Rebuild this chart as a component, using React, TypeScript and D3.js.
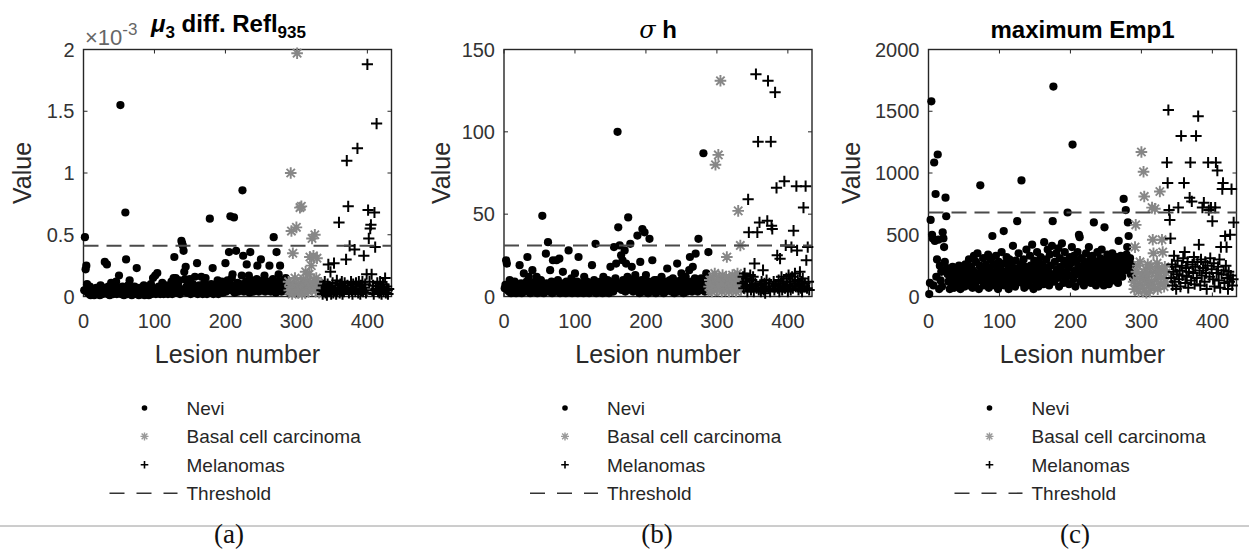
import * as d3 from "d3";

// lesion numbering: nevi 1..288, basal cell carcinoma 289..335, melanomas 336..430
const neviFirst = 1;
const bccFirst = 289;
const melFirst = 336;

const lesionTicks = [0, 100, 200, 300, 400];

// (a) mu_3 diff. Refl935, in units of 1e-3
const neviA = [
  0.05, 0.48, 0.22, 0.25, 0.1, 0.03, 0.06, 0.02, 0.08, 0.01, 0.04, 0.02, 0.06, 0.03, 0.01, 0.05, 0.02, 0.07, 0.03, 0.04,
  0.02, 0.06, 0.01, 0.09, 0.03, 0.05, 0.02, 0.04, 0.07, 0.28, 0.03, 0.05, 0.26, 0.02, 0.08, 0.04, 0.01, 0.06, 0.11, 0.03,
  0.05, 0.02, 0.09, 0.04, 0.06, 0.12, 0.02, 0.03, 0.07, 0.17, 0.04, 1.55, 0.02, 0.05, 0.08, 0.03, 0.01, 0.06, 0.68, 0.3,
  0.04, 0.02, 0.09, 0.05, 0.13, 0.03, 0.07, 0.01, 0.04, 0.06, 0.02, 0.08, 0.03, 0.05, 0.23, 0.02, 0.04, 0.01, 0.07, 0.03,
  0.05, 0.02, 0.06, 0.03, 0.09, 0.01, 0.04, 0.02, 0.07, 0.03, 0.05, 0.01, 0.06, 0.03, 0.1, 0.02, 0.04, 0.15, 0.03, 0.06,
  0.17, 0.02, 0.05, 0.19, 0.03, 0.08, 0.04, 0.02, 0.06, 0.03, 0.11, 0.05, 0.02, 0.07, 0.04, 0.09, 0.03, 0.05, 0.02, 0.06,
  0.03, 0.08, 0.04, 0.12, 0.02, 0.05, 0.15, 0.32, 0.04, 0.15, 0.03, 0.07, 0.1, 0.05, 0.13, 0.02, 0.06, 0.45, 0.43, 0.41,
  0.37, 0.2, 0.14, 0.24, 0.08, 0.03, 0.06, 0.12, 0.04, 0.14, 0.02, 0.07, 0.05, 0.1, 0.03, 0.06, 0.16, 0.04, 0.08, 0.27,
  0.02, 0.05, 0.09, 0.03, 0.06, 0.16, 0.04, 0.02, 0.07, 0.11, 0.03, 0.15, 0.05, 0.02, 0.08, 0.04, 0.06, 0.63, 0.03, 0.1,
  0.05, 0.23, 0.02, 0.07, 0.04, 0.09, 0.03, 0.06, 0.13, 0.02, 0.05, 0.08, 0.04, 0.1, 0.12, 0.03, 0.07, 0.05, 0.09, 0.27,
  0.04, 0.08, 0.13, 0.06, 0.36, 0.1, 0.65, 0.05, 0.15, 0.18, 0.07, 0.64, 0.03, 0.09, 0.37, 0.06, 0.11, 0.04, 0.08, 0.05,
  0.1, 0.06, 0.17, 0.86, 0.33, 0.04, 0.09, 0.07, 0.12, 0.26, 0.05, 0.08, 0.17, 0.03, 0.36, 0.1, 0.06, 0.13, 0.04, 0.09,
  0.07, 0.11, 0.05, 0.14, 0.25, 0.08, 0.04, 0.12, 0.06, 0.3, 0.09, 0.05, 0.13, 0.07, 0.17, 0.04, 0.1, 0.06, 0.08, 0.12,
  0.05, 0.25, 0.09, 0.04, 0.11, 0.07, 0.14, 0.48, 0.06, 0.1, 0.03, 0.36, 0.08, 0.12, 0.18, 0.05, 0.25, 0.09, 0.04, 0.11,
  0.07, 0.13, 0.05, 0.09, 0.15, 0.06, 0.1, 0.04,
];
const bccA = [
  0.12, 0.05, 0.08, 1.0, 0.53, 0.02, 0.35, 0.1, 0.04, 0.15, 0.07, 0.56, 1.97, 0.03, 0.09, 0.06, 0.72, 0.11, 0.73, 0.02,
  0.05, 0.14, 0.08, 0.03, 0.2, 0.1, 0.06, 0.12, 0.04, 0.18, 0.32, 0.07, 0.25, 0.47, 0.09, 0.33, 0.13, 0.5, 0.05, 0.15,
  0.31, 0.08, 0.11, 0.03, 0.06, 0.09, 0.04,
];
const melA = [
  0.05, 0.02, 0.09, 0.04, 0.12, 0.03, 0.07, 0.01, 0.1, 0.26, 0.04, 0.08, 0.2, 0.02, 0.06, 0.11, 0.03, 0.27, 0.05, 0.09,
  0.02, 0.13, 0.04, 0.07, 0.6, 0.03, 0.1, 0.05, 0.12, 0.02, 0.08, 0.04, 0.11, 0.06, 0.3, 1.1, 0.09, 0.73, 0.03, 0.41,
  0.07, 0.12, 0.05, 0.02, 0.1, 0.06, 0.38, 0.04, 0.11, 0.08, 1.2, 0.03, 0.12, 0.06, 0.02, 0.09, 0.05, 0.12, 0.04, 0.33,
  0.07, 0.1, 0.03, 0.18, 1.88, 0.7, 0.47, 0.12, 0.55, 0.58, 0.18, 0.05, 0.09, 0.02, 0.68, 0.4, 0.06, 1.4, 0.11, 0.04,
  0.08, 0.03, 0.12, 0.05, 0.02, 0.07, 0.1, 0.04, 0.06, 0.15, 0.03, 0.08, 0.05, 0.02, 0.06,
];

// (b) sigma h
const neviB = [
  5, 7, 22, 20, 4, 6, 3, 10, 5, 2, 8, 4, 6, 3, 9, 5, 2, 7, 4, 6,
  3, 19, 5, 8, 2, 6, 4, 14, 7, 3, 5, 9, 24, 4, 12, 6, 2, 8, 5, 16,
  3, 7, 4, 9, 5, 12, 2, 6, 8, 4, 3, 10, 5, 49, 7, 2, 6, 4, 26, 8,
  5, 33, 3, 7, 16, 4, 9, 2, 22, 6, 5, 8, 3, 22, 4, 10, 6, 23, 2, 7,
  5, 3, 15, 8, 4, 6, 2, 9, 5, 7, 28, 3, 6, 4, 11, 2, 8, 5, 3, 14,
  6, 4, 9, 2, 24, 7, 5, 3, 8, 4, 6, 2, 12, 5, 7, 3, 9, 4, 6, 2,
  8, 5, 3, 19, 6, 4, 10, 7, 32, 2, 5, 8, 4, 6, 3, 9, 5, 7, 2, 12,
  4, 6, 8, 3, 5, 10, 7, 2, 6, 18, 4, 9, 5, 3, 30, 7, 11, 20, 6, 100,
  42, 5, 31, 8, 25, 4, 22, 10, 6, 28, 3, 20, 7, 12, 48, 5, 9, 32, 4, 18,
  6, 3, 8, 11, 13, 5, 7, 37, 4, 9, 2, 21, 6, 10, 41, 5, 3, 39, 8, 13,
  4, 7, 2, 9, 35, 5, 8, 3, 22, 6, 4, 10, 7, 2, 10, 5, 8, 3, 6, 9,
  4, 12, 7, 5, 2, 8, 6, 3, 9, 17, 5, 7, 4, 10, 6, 3, 8, 11, 5, 2,
  7, 4, 9, 20, 6, 3, 8, 5, 10, 14, 4, 7, 2, 9, 5, 12, 6, 3, 8, 4,
  16, 24, 5, 9, 3, 18, 7, 4, 11, 26, 6, 8, 3, 35, 5, 10, 7, 11, 4, 9,
  87, 6, 3, 8, 14, 5, 10, 27,
];
const bccB = [
  6, 10, 4, 8, 3, 12, 5, 7, 14, 80, 6, 9, 4, 86, 11, 5, 131, 8, 3, 13,
  6, 10, 4, 7, 12, 24, 5, 9, 3, 11, 6, 8, 4, 13, 7, 10, 5, 12, 3, 8,
  14, 52, 6, 9, 31, 4, 11,
];
const melB = [
  8, 12, 5, 14, 9, 6, 11, 3, 59, 39, 7, 13, 4, 10, 6, 12, 3, 20, 8, 135,
  5, 39, 94, 4, 45, 7, 3, 9, 5, 16, 4, 8, 2, 6, 10, 46, 131, 5, 8, 3,
  94, 43, 41, 6, 9, 4, 124, 7, 66, 25, 5, 10, 3, 23, 8, 12, 4, 6, 9, 70,
  5, 31, 11, 7, 3, 13, 6, 9, 4, 30, 12, 5, 40, 8, 14, 6, 67, 28, 10, 4,
  7, 15, 5, 9, 3, 11, 54, 6, 8, 67, 22, 5, 30, 9, 4,
];

// (c) maximum Emp1
const neviC = [
  20, 110, 620, 1580, 500, 470, 90, 1085, 450, 830, 160, 300, 1150, 460, 60, 250, 130, 200, 80, 520,
  470, 400, 280, 800, 650, 230, 180, 120, 210, 60, 150, 190, 100, 240, 140, 70, 170, 110, 200, 130,
  90, 160, 250, 120, 60, 190, 140, 220, 100, 170, 80, 260, 130, 200, 110, 150, 300, 90, 180, 240,
  120, 70, 210, 330, 160, 100, 280, 140, 350, 190, 60, 250, 900, 130, 220, 170, 310, 90, 200, 150,
  260, 110, 180, 340, 70, 230, 140, 300, 200, 490, 120, 260, 90, 180, 330, 150, 220, 60, 280, 170,
  240, 110, 360, 200, 140, 530, 90, 270, 180, 320, 130, 220, 60, 300, 190, 250, 100, 170, 410, 140,
  230, 80, 290, 180, 610, 120, 350, 210, 160, 260, 940, 110, 200, 300, 70, 240, 160, 380, 130, 220,
  180, 90, 330, 250, 140, 420, 200, 60, 290, 170, 240, 110, 360, 190, 80, 270, 150, 320, 210, 130,
  260, 100, 440, 180, 230, 300, 140, 380, 200, 90, 340, 250, 160, 410, 610, 1700, 120, 280, 190, 350,
  220, 150, 390, 80, 310, 240, 170, 430, 200, 110, 290, 360, 140, 260, 190, 680, 230, 100, 320, 170,
  270, 400, 1230, 140, 330, 210, 80, 290, 180, 360, 250, 500, 480, 120, 200, 310, 160, 240, 90, 280,
  190, 350, 130, 260, 220, 400, 170, 300, 110, 240, 330, 200, 600, 150, 280, 90, 230, 360, 180, 260,
  120, 310, 210, 380, 160, 250, 90, 560, 290, 200, 140, 340, 230, 100, 270, 310, 180, 220, 350, 130,
  260, 200, 300, 150, 320, 240, 110, 450, 280, 190, 330, 250, 160, 300, 790, 210, 270, 700, 340, 400,
  600, 490, 230, 310, 180, 260, 200, 150,
];
const bccC = [
  120, 60, 400, 580, 200, 90, 250, 40, 150, 280, 100, 1170, 180, 70, 1010, 810, 130, 220, 30, 160,
  260, 90, 190, 50, 240, 120, 720, 460, 350, 80, 710, 200, 140, 270, 60, 170, 230, 850, 100, 210,
  460, 360, 150, 80, 240, 120, 190,
];
const melC = [
  1085, 920, 1510, 700, 620, 470, 150, 260, 90, 200, 330, 120, 240, 60, 180, 290, 720, 140, 210, 80,
  1300, 250, 170, 310, 920, 360, 110, 230, 160, 280, 70, 200, 800, 1085, 130, 770, 260, 190, 320, 100,
  240, 1300, 150, 280, 1460, 420, 210, 90, 300, 170, 720, 230, 760, 120, 280, 190, 60, 250, 1085, 700,
  160, 310, 720, 220, 610, 140, 270, 80, 720, 1085, 190, 1020, 240, 130, 300, 70, 400, 180, 870, 920,
  210, 110, 490, 250, 400, 150, 60, 200, 120, 500, 170, 870, 90, 140, 600,
];

const thresholds = [0.41, 31, 680];
const yDomains: [number, number][] = [[0, 2], [0, 150], [0, 2000]];
const yTicks = [
  [0, 0.5, 1, 1.5, 2],
  [0, 50, 100, 150],
  [0, 500, 1000, 1500, 2000],
];
const legendLabels = ["Nevi", "Basal cell carcinoma", "Melanomas", "Threshold"];
const panelLetters = ["(a)", "(b)", "(c)"];

const panelData = [
  { nevi: neviA, bcc: bccA, mel: melA },
  { nevi: neviB, bcc: bccB, mel: melB },
  { nevi: neviC, bcc: bccC, mel: melC },
];

// layout
const W = 1249;
const H = 552;
const FONT = "'Liberation Sans', Arial, Helvetica, sans-serif";
const AX = "#262626";
const TICK_TXT = "#333";
const BCC_COLOR = "#878787";
const top = 49.5;
const bottom = 296.5;
const boxW = 308;
const boxLefts = [83.5, 504, 928.5];
const valueLabelX = [22, 441, 851];
const letterX = [229, 657, 1075];

const dotPath = (r: number) => d3.symbol(d3.symbolCircle, Math.PI * r * r)() as string;
const starPath = (s: number) => {
  const d = s * 0.72;
  return `M${-s},0H${s}M0,${-s}V${s}M${-d},${-d}L${d},${d}M${-d},${d}L${d},${-d}`;
};
const plusPath = (s: number) => `M${-s},0H${s}M0,${-s}V${s}`;

function Panel({ i }: { i: number }) {
  const left = boxLefts[i];
  const x = d3.scaleLinear().domain([0, 434]).range([left, left + boxW]);
  const y = d3.scaleLinear().domain(yDomains[i]).range([bottom, top]);
  const { nevi, bcc, mel } = panelData[i];
  const cx = left + boxW / 2;
  const tl = 4;

  return (
    <g>
      {/* box */}
      <rect x={left} y={top} width={boxW} height={bottom - top} fill="none" stroke={AX} strokeWidth={1.4} />
      {lesionTicks.map((t) => (
        <g key={"xt" + t}>
          <line x1={x(t)} x2={x(t)} y1={bottom} y2={bottom - tl} stroke={AX} />
          <line x1={x(t)} x2={x(t)} y1={top} y2={top + tl} stroke={AX} />
          <text x={x(t)} y={328} textAnchor="middle" fontSize={20} fill={TICK_TXT}>
            {t}
          </text>
        </g>
      ))}
      {yTicks[i].map((t) => (
        <g key={"yt" + t}>
          <line x1={left} x2={left + tl} y1={y(t)} y2={y(t)} stroke={AX} />
          <line x1={left + boxW} x2={left + boxW - tl} y1={y(t)} y2={y(t)} stroke={AX} />
          <text x={left - 9} y={y(t)} dy="0.36em" textAnchor="end" fontSize={20} fill={TICK_TXT}>
            {String(t)}
          </text>
        </g>
      ))}
      <text x={cx} y={363} textAnchor="middle" fontSize={25} fill="#2a2a2a">
        Lesion number
      </text>
      <text
        transform={`translate(${valueLabelX[i]},${(top + bottom) / 2}) rotate(-90)`}
        textAnchor="middle"
        dy="0.36em"
        fontSize={25}
        fill="#2a2a2a"
      >
        Value
      </text>

      {/* data */}
      {nevi.map((v, k) => (
        <path key={"n" + k} d={dotPath(4.1)} transform={`translate(${x(neviFirst + k)},${y(v)})`} fill="#000" />
      ))}
      {bcc.map((v, k) => (
        <path
          key={"b" + k}
          d={starPath(5.8)}
          transform={`translate(${x(bccFirst + k)},${y(v)})`}
          stroke={BCC_COLOR}
          strokeWidth={1.9}
          fill="none"
        />
      ))}
      {mel.map((v, k) => (
        <path
          key={"m" + k}
          d={plusPath(5.6)}
          transform={`translate(${x(melFirst + k)},${y(v)})`}
          stroke="#000"
          strokeWidth={2}
          fill="none"
        />
      ))}
      <line
        x1={left}
        x2={left + boxW}
        y1={y(thresholds[i])}
        y2={y(thresholds[i])}
        stroke="#4a4a4a"
        strokeWidth={2}
        strokeDasharray="15 8"
      />

      {/* legend */}
      {legendLabels.map((lab, k) => {
        const ly = 408 + k * 28.4;
        const mx = left + 61;
        return (
          <g key={lab}>
            {k === 0 && <path d={dotPath(2.8)} transform={`translate(${mx},${ly})`} fill="#000" />}
            {k === 1 && (
              <path d={starPath(4)} transform={`translate(${mx},${ly})`} stroke="#9a9a9a" strokeWidth={1.4} fill="none" />
            )}
            {k === 2 && <path d={plusPath(3.8)} transform={`translate(${mx},${ly})`} stroke="#000" strokeWidth={1.6} fill="none" />}
            {k === 3 && (
              <line x1={mx - 35} x2={mx + 33} y1={ly} y2={ly} stroke="#333" strokeWidth={1.6} strokeDasharray="15 12" />
            )}
            <text x={left + 103} y={ly} dy="0.36em" fontSize={19} fill="#262626">
              {lab}
            </text>
          </g>
        );
      })}

      <text x={letterX[i]} y={543} textAnchor="middle" fontSize={27} fill="#111" fontFamily="'Liberation Serif', 'Times New Roman', serif">
        {panelLetters[i]}
      </text>
    </g>
  );
}

export default function App() {
  return (
    <svg
      width={W}
      height={H}
      viewBox={`0 0 ${W} ${H}`}
      style={{ position: "absolute", left: 0, top: 0, background: "#fff" }}
      fontFamily={FONT}
    >
      <rect width={W} height={H} fill="#fff" />
      <line x1={0} x2={W} y1={526} y2={526} stroke="#9a9a9a" strokeWidth={1} />
      {[0, 1, 2].map((i) => (
        <Panel key={i} i={i} />
      ))}

      {/* titles */}
      <text x={85} y={45} fontSize={22} fill="#666">
        ×10<tspan fontSize={17} dy={-10}>-3</tspan>
      </text>
      <text x={151} y={32} fontSize={24} fontWeight="bold" fill="#000">
        <tspan fontStyle="italic">μ</tspan>
        <tspan fontSize={17} dy={6}>3</tspan>
        <tspan dy={-6}> diff. Refl</tspan>
        <tspan fontSize={17} dy={6}>935</tspan>
      </text>
      <text x={boxLefts[1] + boxW / 2} y={38} textAnchor="middle" fontSize={24} fontWeight="bold" fill="#000">
        <tspan fontStyle="italic" fontFamily="'DejaVu Serif', serif" fontWeight="normal">σ</tspan> h
      </text>
      <text x={boxLefts[2] + boxW / 2} y={38} textAnchor="middle" fontSize={24} fontWeight="bold" fill="#000">
        maximum Emp1
      </text>
    </svg>
  );
}
